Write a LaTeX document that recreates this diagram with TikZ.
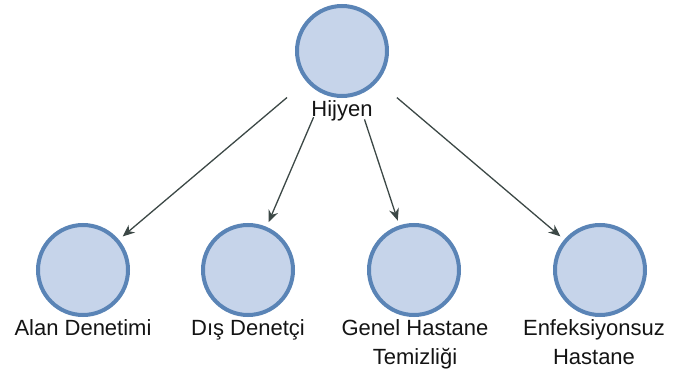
\documentclass[tikz,border=0pt]{standalone}
\usepackage{fontspec}
\setmainfont{Liberation Sans}
\usepackage{tikz}
\usetikzlibrary{arrows.meta,positioning}
\usepackage{xcolor}
\definecolor{daireFill}{HTML}{C6D4EA}
\definecolor{daireLine}{HTML}{5A84B6}
\definecolor{okLine}{HTML}{3C4846}

\begin{document}
\begin{tikzpicture}[
  x=1pt, y=-1pt,
  >=Stealth,
  circ/.style={circle, draw=daireLine, fill=daireFill, line width=4pt, minimum size=90pt, inner sep=0pt},
  lbl/.style={anchor=north, inner sep=0pt, align=center, text=black!92,
    font=\fontsize{22}{29}\selectfont},
  arrow/.style={-{Stealth[length=12pt,width=10pt]}, line width=1.3pt, draw=okLine,
    shorten <=25pt, shorten >=5pt}
]
\useasboundingbox (0,0) rectangle (675,374);

% Hijyen
\node[circ] (hijyen) at (342,51) {};
\node[lbl] (hijyenlbl) at (342,100) {Hijyen};

% alt dallar
\node[circ] (alan) at (83,270) {};
\node[lbl] (alanlbl) at (83,319) {Alan Denetimi};

\node[circ] (dis) at (248,270) {};
\node[lbl] (dislbl) at (248,319) {Dış Denetçi};

\node[circ] (genel) at (414,270) {};
\node[lbl] (genellbl) at (415,319) {Genel Hastane\\Temizliği};

\node[circ] (enf) at (600,270) {};
\node[lbl] (enflbl) at (594,319) {Enfeksiyonsuz\\Hastane};

\draw[arrow] (hijyen) -- (alan);
\draw[arrow] (hijyen) -- (dis);
\draw[arrow] (hijyen) -- (genel);
\draw[arrow] (hijyen) -- (enf);
\end{tikzpicture}
\end{document}
